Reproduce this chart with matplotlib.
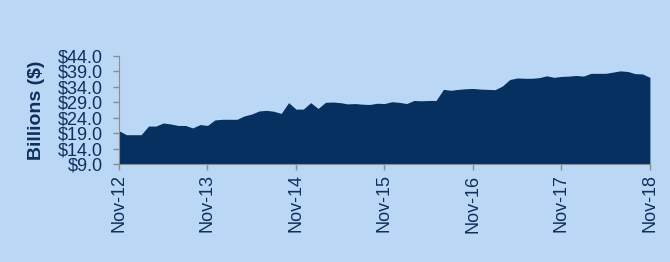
import numpy as np
import matplotlib.pyplot as plt

# monatliche Werte in Mrd. $, Nov-12 bis Nov-18
werte = [19.8, 18.5, 18.5, 18.5, 21.3, 21.3, 22.3, 22.0, 21.5, 21.5, 20.7, 21.8,
         21.5, 23.3, 23.5, 23.5, 23.5, 24.6, 25.2, 26.2, 26.4, 26.1, 25.4, 28.9,
         26.8, 26.8, 28.9, 27.0, 29.0, 29.1, 28.9, 28.5, 28.6, 28.4, 28.3, 28.7,
         28.6, 29.2, 29.0, 28.6, 29.6, 29.5, 29.6, 29.6, 33.2, 32.9, 33.2, 33.4,
         33.5, 33.3, 33.2, 33.1, 34.3, 36.4, 36.9, 36.8, 36.8, 37.0, 37.6, 37.1,
         37.4, 37.5, 37.7, 37.5, 38.4, 38.4, 38.4, 38.8, 39.2, 39.0, 38.3, 38.2,
         37.1]
monate = np.arange(len(werte))
x_labels = ['Nov-12', 'Nov-13', 'Nov-14', 'Nov-15', 'Nov-16', 'Nov-17', 'Nov-18']
y_ticks = [9.0, 14.0, 19.0, 24.0, 29.0, 34.0, 39.0, 44.0]

hintergrund = '#BAD8F6'
navy = '#06305F'
text_farbe = '#0F2F5C'

plt.rcParams['font.family'] = ['Liberation Sans', 'DejaVu Sans']

fig = plt.figure(figsize=(6.7, 2.62), dpi=100, facecolor=hintergrund)
ax = fig.add_axes([0.1776, 0.374, 0.7924, 0.412])
ax.set_facecolor(hintergrund)

ax.fill_between(monate, y_ticks[0], werte, color=navy, linewidth=0)

ax.set_xlim(0, len(werte) - 1)
ax.set_ylim(y_ticks[0], y_ticks[-1])
ax.set_xticks(np.arange(0, len(werte), 12))
ax.set_xticklabels(x_labels, rotation=90, fontsize=13, color=text_farbe)
ax.set_yticks(y_ticks)
ax.set_yticklabels(['${:.1f}'.format(v) for v in y_ticks], fontsize=13,
                   color=text_farbe)
ax.tick_params(axis='both', colors='#8C8C8C', labelcolor=text_farbe,
               length=4.5, width=1)
ax.tick_params(axis='y', pad=7)
ax.tick_params(axis='x', pad=3)

for s in ['top', 'right']:
    ax.spines[s].set_visible(False)
for s in ['left', 'bottom']:
    ax.spines[s].set_color('#8C8C8C')

ax.set_ylabel('Billions ($)', fontsize=14, fontweight='bold', color=text_farbe,
              labelpad=9)

fig.savefig('out.png', dpi=100, facecolor=hintergrund)
